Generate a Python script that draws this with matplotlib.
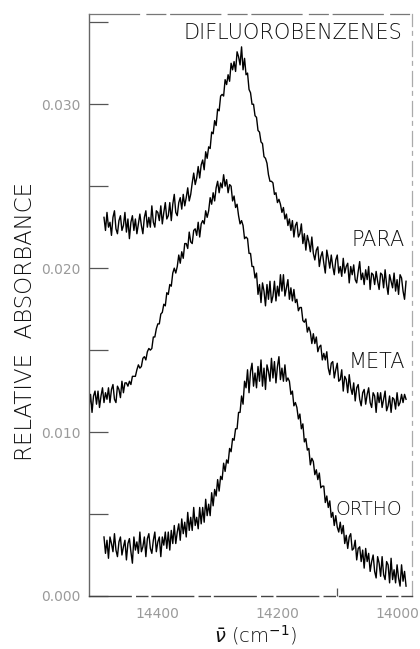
import numpy as np
import matplotlib
matplotlib.use("Agg")
import matplotlib.pyplot as plt
from matplotlib.ticker import FixedLocator, MultipleLocator

# absorbance traces in units of 1e-4, sampled every 2.5 cm^-1 from the start wavenumber down
STEP = 2.5

PARA_START = 14490
para = [231, 223, 234, 225, 228, 220, 231, 235, 224, 221, 229, 232, 223, 226, 234, 222,
        230, 218, 228, 232, 223, 230, 221, 227, 233, 226, 221, 231, 235, 225, 231, 225,
        238, 228, 225, 235, 234, 229, 238, 227, 234, 240, 230, 232, 240, 229, 239, 245,
        234, 232, 240, 243, 236,
        245, 238, 243, 249, 241, 245, 252, 258, 251, 255, 262, 255, 263, 266, 260, 271,
        267, 274, 273, 283, 282, 290, 287, 297, 296, 305, 306, 305, 315, 312, 318, 314,
        325, 321, 326, 320, 332, 329, 324, 335, 321, 328, 318, 319, 309, 307, 300, 300,
        293, 292, 284, 283, 277, 276, 268, 267, 264, 257, 253, 253, 252, 245, 246, 240,
        242, 239, 234, 237, 230, 233, 226, 230,
        223, 229, 219, 226, 228, 219, 221, 227, 215, 221, 211, 220, 216, 210, 219, 209,
        205, 211, 213, 201, 207, 210, 203, 197, 211, 206, 200, 208, 201, 196, 205, 208,
        197, 201, 195, 206, 197, 201, 203, 191, 201, 196, 202, 193, 191, 198, 204, 193,
        197, 190, 199, 193, 201, 187, 197, 196, 190, 198, 192, 187, 197, 196, 188, 199,
        190, 184, 196, 192, 188, 197, 186, 193, 184, 196, 194, 186, 181, 192]

META_START = 14515
meta = [115, 123, 112, 122, 125, 117, 125, 115, 122, 127, 118, 124, 120, 127, 118, 126,
        129, 120, 118, 128, 126, 121, 131, 124, 130,
        130, 128, 131, 129, 134, 134, 134, 138, 141, 139, 140, 145, 146, 144, 149, 151,
        150, 151, 158, 158, 163, 166, 166, 172, 173, 178, 177, 185, 184, 190, 189, 197,
        200, 197, 201, 208, 203, 210, 206, 215, 215, 212, 222, 216, 215, 223, 224, 220,
        228, 219, 227, 229, 227, 235, 231, 235, 243, 239, 246, 241, 249, 253, 246, 252,
        249,
        257, 250, 254, 246, 251, 250, 241, 244, 237, 239, 232, 227, 229, 226, 218, 219,
        218, 209, 209, 201, 201,
        194, 197, 184, 190, 179, 191, 186, 177, 190, 181, 192, 179, 183, 192, 180, 189,
        183, 196, 186, 196, 183, 188, 193, 181, 188, 180, 187, 179,
        181, 174, 176, 176, 168, 167, 169, 161, 164, 161, 154, 160, 154, 158, 149, 152,
        153, 144, 148, 144, 149, 139, 135, 142, 143, 133, 138, 142, 131, 132, 138, 125,
        134, 132, 124, 135, 127, 123, 130, 119, 127, 129, 120, 116, 124, 126, 117, 123,
        127, 118, 115, 124, 122, 112, 124, 118, 124, 115, 120, 125, 113, 116, 122, 112,
        121, 120, 114, 124, 116, 118, 123, 118, 123, 120]

ORTHO_START = 14490
ortho = [36, 26, 34, 23, 36, 32, 27, 38, 28, 24, 33, 36, 25, 30, 34, 22,
         32, 35, 27, 20, 36, 28, 33, 26, 39, 27, 30, 36, 24, 35, 38, 29,
         26, 34, 39, 27, 33, 36, 24, 36, 31, 39, 29, 39, 28,
         40, 32, 43, 32, 39, 44, 34, 47, 38, 45, 36, 51, 40, 48, 40, 54,
         43, 48, 41, 54, 44, 54, 45, 59, 49, 56, 49, 63, 55, 65, 61, 71,
         64, 73, 71, 81, 76, 83, 81, 90, 88, 96, 95, 102, 102, 112, 112,
         122, 117, 131, 127, 138, 124, 137, 142, 128, 136, 127, 140, 131, 144, 128, 139,
         126, 141, 137, 131, 145, 133, 143, 130, 140, 146, 132, 139, 131, 141, 131, 133,
         131, 123, 125, 116, 118, 115, 108, 111, 102, 105, 94, 96, 89, 90, 80, 84,
         82, 74, 77, 71, 75, 66, 67, 67, 57, 61, 54, 58, 48, 51, 43, 49, 42,
         39, 45, 38, 43, 32, 37, 29, 36, 38, 28, 29, 34, 22, 29, 30, 21,
         28, 17, 29, 21, 26, 15, 21, 25, 15, 11, 24, 20, 12, 24, 13, 10,
         21, 19, 8, 23, 10, 16, 8, 19, 11, 6, 19, 9, 15, 6]

series = [("PARA", PARA_START, para), ("META", META_START, meta), ("ORTHO", ORTHO_START, ortho)]

x_ticks = [14400, 14200, 14000]
y_ticks = [0.000, 0.010, 0.020, 0.030]

fig = plt.figure(figsize=(4.2, 6.49), dpi=100)
ax = fig.add_axes([0.212, 0.0817, 0.769, 0.8966])

for name, start, vals in series:
    a = np.asarray(vals) * 1e-4
    wn = start - STEP * np.arange(len(a))
    ax.plot(wn, a, color="black", lw=1.0)

ax.set_xlim(14515, 13975)
ax.set_ylim(0.0, 0.0355)

ax.xaxis.set_major_locator(FixedLocator(x_ticks))
ax.xaxis.set_minor_locator(FixedLocator([14100]))
ax.yaxis.set_major_locator(FixedLocator(y_ticks))
ax.yaxis.set_minor_locator(MultipleLocator(0.005))
ax.set_xticklabels([str(t) for t in x_ticks])
ax.set_yticklabels([f"{t:.3f}" for t in y_ticks])

ax.tick_params(axis="both", which="both", direction="in", color="#555555",
               labelcolor="#9a9a9a", labelsize=10, top=False, right=False)
ax.tick_params(axis="y", which="both", length=14, width=0.9, pad=6)
ax.tick_params(axis="x", which="major", length=0, pad=8)
ax.tick_params(axis="x", which="minor", length=6, width=0.9)

ax.spines["left"].set_color("#666666")
ax.spines["left"].set_linewidth(1.0)
ax.spines["bottom"].set_color("#444444")
ax.spines["bottom"].set_linewidth(1.0)
ax.spines["bottom"].set_linestyle((0, (30, 4, 8, 3)))
ax.spines["top"].set_color("#777777")
ax.spines["top"].set_linewidth(0.9)
ax.spines["top"].set_linestyle((0, (40, 6, 15, 4)))
ax.spines["right"].set_color("#aaaaaa")
ax.spines["right"].set_linewidth(0.9)
ax.spines["right"].set_linestyle((0, (12, 5, 3, 4)))

label_font = dict(family="DejaVu Sans", weight="light", color="#111111")
ax.text(0.969, 0.967, "DIFLUOROBENZENES", transform=ax.transAxes,
        ha="right", va="center", fontsize=15, **label_font)
ax.text(0.978, 0.612, "PARA", transform=ax.transAxes, ha="right", va="center",
        fontsize=15, **label_font)
ax.text(0.978, 0.402, "META", transform=ax.transAxes, ha="right", va="center",
        fontsize=15, **label_font)
ax.text(0.969, 0.149, "ORTHO", transform=ax.transAxes, ha="right", va="center",
        fontsize=13.5, **label_font)

fig.text(0.06, 0.505, "RELATIVE  ABSORBANCE", rotation=90, ha="center", va="center",
         fontsize=16.5, **label_font)
fig.text(0.607, 0.022, r"$\bar{\nu}$ (cm$^{-1}$)", ha="center", va="center",
         fontsize=14, **label_font)

fig.savefig("out.png", dpi=100)
